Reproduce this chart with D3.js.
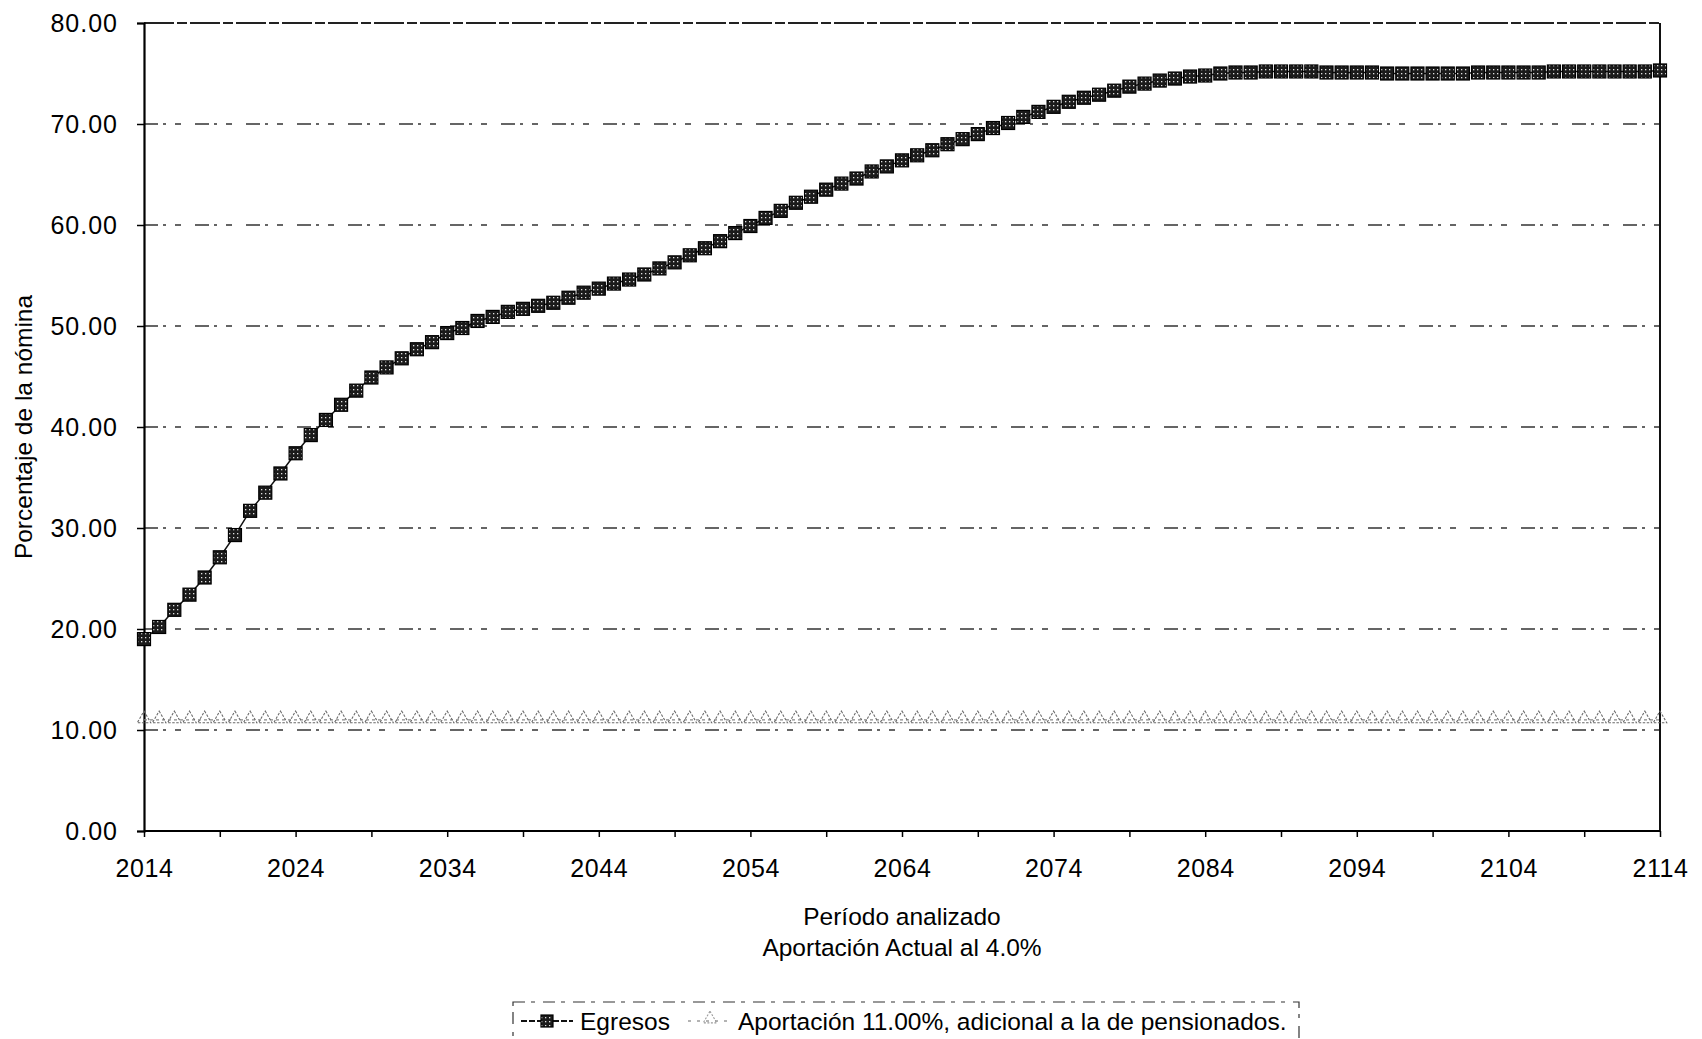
<!DOCTYPE html>
<html><head><meta charset="utf-8">
<script src="https://cdn.jsdelivr.net/npm/d3@7"></script>
<style>
html,body{margin:0;padding:0;background:#fff;}
svg{display:block;font-family:"Liberation Sans",Arial,sans-serif;}
</style></head>
<body>
<svg id="chart" width="1702" height="1039"></svg>
<script>
const years = d3.range(2014, 2115);
const egresos = [
 19.0,20.2,21.9,23.4,25.1,27.1,29.3,31.7,33.5,35.4,
 37.4,39.2,40.7,42.2,43.6,44.9,45.9,46.8,47.7,48.4,
 49.3,49.8,50.5,50.9,51.4,51.7,52.0,52.3,52.8,53.3,
 53.7,54.2,54.6,55.1,55.7,56.3,57.0,57.7,58.4,59.2,
 59.9,60.7,61.4,62.2,62.8,63.5,64.1,64.6,65.3,65.8,
 66.4,66.9,67.4,68.0,68.5,69.0,69.6,70.1,70.7,71.2,
 71.7,72.2,72.6,72.9,73.3,73.7,74.0,74.3,74.5,74.7,
 74.8,75.0,75.1,75.1,75.2,75.2,75.2,75.2,75.1,75.1,
 75.1,75.1,75.0,75.0,75.0,75.0,75.0,75.0,75.1,75.1,
 75.1,75.1,75.1,75.2,75.2,75.2,75.2,75.2,75.2,75.2,
 75.3
];
const aportacion = [
 11.0,11.0,11.0,11.0,11.0,11.0,11.0,11.0,11.0,11.0,
 11.0,11.0,11.0,11.0,11.0,11.0,11.0,11.0,11.0,11.0,
 11.0,11.0,11.0,11.0,11.0,11.0,11.0,11.0,11.0,11.0,
 11.0,11.0,11.0,11.0,11.0,11.0,11.0,11.0,11.0,11.0,
 11.0,11.0,11.0,11.0,11.0,11.0,11.0,11.0,11.0,11.0,
 11.0,11.0,11.0,11.0,11.0,11.0,11.0,11.0,11.0,11.0,
 11.0,11.0,11.0,11.0,11.0,11.0,11.0,11.0,11.0,11.0,
 11.0,11.0,11.0,11.0,11.0,11.0,11.0,11.0,11.0,11.0,
 11.0,11.0,11.0,11.0,11.0,11.0,11.0,11.0,11.0,11.0,
 11.0,11.0,11.0,11.0,11.0,11.0,11.0,11.0,11.0,11.0,
 11.0
];
const yTicks = [0,10,20,30,40,50,60,70,80];
const xLabelTicks = [2014,2024,2034,2044,2054,2064,2074,2084,2094,2104,2114];
const xMinorTicks = d3.range(2014, 2115, 5);
const seriesNames = ["Egresos","Aportación 11.00%, adicional a la de pensionados."];
const xTitle = "Período analizado";
const xSubtitle = "Aportación Actual al 4.0%";
const yTitle = "Porcentaje de la nómina";

const svg = d3.select("#chart");
const L = 144, R = 1660, T = 23, B = 831;
const x = d3.scaleLinear().domain([2014, 2114]).range([L, R]);
const y = d3.scaleLinear().domain([0, 80]).range([B, T]);
const FONT = "'Liberation Sans',Arial,sans-serif";

svg.append("rect").attr("width",1702).attr("height",1039).attr("fill","#fff");

const defs = svg.append("defs");
const pat = defs.append("pattern").attr("id","speck").attr("width",4).attr("height",4)
  .attr("patternUnits","userSpaceOnUse");
pat.append("rect").attr("width",4).attr("height",4).attr("fill","#1b1b1b");
pat.append("rect").attr("x",1).attr("y",1).attr("width",1.3).attr("height",1.3).attr("fill","#e0e0e0");

// gridlines
svg.append("g").selectAll("line").data(yTicks.filter(d => d > 0 && d < 80)).join("line")
  .attr("x1", L).attr("x2", R).attr("y1", d => y(d)).attr("y2", d => y(d))
  .attr("stroke", "#333").attr("stroke-width", 1.3).attr("stroke-dasharray", "14,5,3,9,6,14");

// top border
svg.append("line").attr("x1",L).attr("x2",R).attr("y1",y(80)).attr("y2",y(80))
  .attr("stroke","#222").attr("stroke-width",1.8).attr("stroke-dasharray","30,3,10,3");
// right border
svg.append("line").attr("x1",R).attr("x2",R).attr("y1",T).attr("y2",B)
  .attr("stroke","#111").attr("stroke-width",2);

// Y axis
const yAxis = d3.axisLeft(y).tickValues(yTicks).tickFormat(d3.format(".2f")).tickSize(7).tickPadding(19);
const gy = svg.append("g").attr("transform", `translate(${L},0)`).call(yAxis);
gy.select(".domain").attr("stroke","#000").attr("stroke-width",2.2);
gy.selectAll(".tick line").attr("stroke","#000").attr("stroke-width",1.5);
gy.selectAll("text").attr("font-size",25).attr("fill","#000").attr("letter-spacing","1px")
  .attr("font-family",FONT);

// X axis
const xAxis = d3.axisBottom(x).tickValues(xMinorTicks).tickFormat(d => xLabelTicks.includes(d) ? d : "")
  .tickSize(6).tickPadding(22);
const gx = svg.append("g").attr("transform", `translate(0,${B})`).call(xAxis);
gx.select(".domain").attr("stroke","#000").attr("stroke-width",2).attr("d", `M${L},0H${R}`);
gx.selectAll(".tick line").attr("stroke","#000").attr("stroke-width",1.5);
gx.selectAll("text").attr("font-size",25).attr("fill","#000").attr("letter-spacing","0.6px")
  .attr("font-family",FONT);

// Titles
svg.append("text").attr("x", (L+R)/2).attr("y", 925).attr("text-anchor","middle")
  .attr("font-size",24.5).text(xTitle);
svg.append("text").attr("x", (L+R)/2).attr("y", 956).attr("text-anchor","middle")
  .attr("font-size",24.5).text(xSubtitle);
svg.append("text").attr("transform", `translate(32,${(T+B)/2}) rotate(-90)`).attr("text-anchor","middle")
  .attr("font-size",24.5).text(yTitle);

// Aportación series
const line = d3.line().x((d,i) => x(years[i])).y(d => y(d));
svg.append("path").datum(aportacion).attr("d", line).attr("fill","none")
  .attr("stroke","#888").attr("stroke-width",1.3).attr("stroke-dasharray","3,3");
const tri = d3.symbol().type(d3.symbolTriangle).size(80);
svg.append("g").selectAll("path").data(aportacion).join("path")
  .attr("d", tri).attr("transform", (d,i) => `translate(${x(years[i])},${y(d)-1})`)
  .attr("fill","none").attr("stroke","#6a6a6a").attr("stroke-width",1.1).attr("stroke-dasharray","2.5,1.5");

// Egresos series
svg.append("path").datum(egresos).attr("d", line).attr("fill","none")
  .attr("stroke","#111").attr("stroke-width",1.5);
const sq = 13;
svg.append("g").selectAll("rect").data(egresos).join("rect")
  .attr("x", (d,i) => x(years[i]) - sq/2).attr("y", d => y(d) - sq/2)
  .attr("width", sq).attr("height", sq)
  .attr("fill","url(#speck)").attr("stroke","#000").attr("stroke-width",1.2);

// Legend
const lg = svg.append("g");
lg.append("rect").attr("x",513).attr("y",1002).attr("width",786).attr("height",50)
  .attr("fill","none").attr("stroke","#333").attr("stroke-width",1.2).attr("stroke-dasharray","12,6,4,8");
lg.append("line").attr("x1",521).attr("x2",573).attr("y1",1021).attr("y2",1021)
  .attr("stroke","#111").attr("stroke-width",1.8).attr("stroke-dasharray","6,2");
lg.append("rect").attr("x",541).attr("y",1015).attr("width",12).attr("height",12)
  .attr("fill","url(#speck)").attr("stroke","#000").attr("stroke-width",1.2);
lg.append("text").attr("x",580).attr("y",1030).attr("font-size",24.5).text(seriesNames[0]);
lg.append("line").attr("x1",688).attr("x2",732).attr("y1",1021).attr("y2",1021)
  .attr("stroke","#9a9a9a").attr("stroke-width",1.3).attr("stroke-dasharray","3,6");
lg.append("path").attr("d", tri).attr("transform","translate(710,1019)")
  .attr("fill","none").attr("stroke","#9a9a9a").attr("stroke-width",1.1).attr("stroke-dasharray","2,1.5");
lg.append("text").attr("x",738).attr("y",1030).attr("font-size",24.5).text(seriesNames[1]);
</script>
</body></html>
